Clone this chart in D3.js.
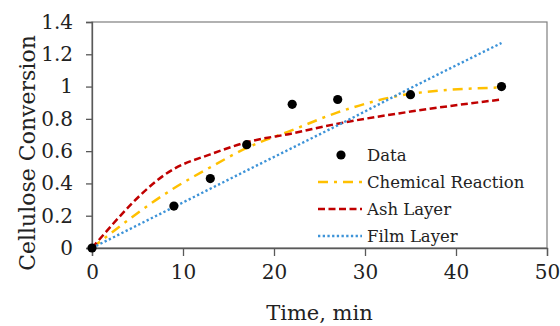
<!DOCTYPE html>
<html>
<head>
<meta charset="utf-8">
<script src="https://cdn.jsdelivr.net/npm/d3@7"></script>
<style>
  body { margin: 0; background: #fff; }
  text { font-family: "DejaVu Serif", serif; fill: #222; }
</style>
</head>
<body>
<svg id="chart"></svg>
<script>
// time points (min)
const times = [0, 9, 13, 17, 22, 27, 35, 45];
// measured conversion
const data = [0, 0.26, 0.43, 0.64, 0.89, 0.92, 0.95, 1.0];
// model fits
const chemical = [0, 0.37, 0.50, 0.62, 0.73, 0.84, 0.955, 0.995];
const ash = [0, 0.49, 0.58, 0.655, 0.71, 0.77, 0.845, 0.92];
const film = [0, 0.254, 0.367, 0.48, 0.62, 0.76, 0.99, 1.27];

const xTicks = [0, 10, 20, 30, 40, 50];
const yTicks = [0, 0.2, 0.4, 0.6, 0.8, 1, 1.2, 1.4];
const legendLabels = ["Data", "Chemical Reaction", "Ash Layer", "Film Layer"];

const width = 560, height = 326;
const margin = { top: 22, right: 13, bottom: 78, left: 92 };
const w = width - margin.left - margin.right;
const h = height - margin.top - margin.bottom;

const svg = d3.select("#chart").attr("width", width).attr("height", height);
const g = svg.append("g").attr("transform", "translate(" + margin.left + "," + margin.top + ")");

const x = d3.scaleLinear().domain([0, 50]).range([0, w]);
const y = d3.scaleLinear().domain([0, 1.4]).range([h, 0]);

// plot frame
g.append("rect")
  .attr("width", w).attr("height", h)
  .attr("fill", "none").attr("stroke", "#7f7f7f").attr("stroke-width", 1.2);

const xAxis = g.append("g")
  .attr("transform", "translate(0," + h + ")")
  .call(d3.axisBottom(x).tickValues(xTicks).tickSize(8).tickPadding(9));
const yAxis = g.append("g")
  .call(d3.axisLeft(y).tickValues(yTicks).tickSize(6).tickPadding(13)
    .tickFormat(d => String(+d.toFixed(1))));

[xAxis, yAxis].forEach(a => {
  a.attr("font-family", null);
  a.selectAll("path, line").attr("stroke", "#595959").attr("stroke-width", 1.3);
  a.selectAll("text").style("font-size", "20px").attr("fill", "#222");
});

// series
const series = [
  { name: "Chemical Reaction", values: chemical, color: "#FFC000", dash: "10,6,3,6", width: 2.5 },
  { name: "Ash Layer", values: ash, color: "#C00000", dash: "7,3.5", width: 2.5 },
  { name: "Film Layer", values: film, color: "#3D93D8", dash: "2.3,2.4", width: 2.4 }
];

const line = d3.line()
  .x((d, i) => x(times[i]))
  .y(d => y(d))
  .curve(d3.curveMonotoneX);

series.forEach(s => {
  g.append("path")
    .datum(s.values)
    .attr("d", line)
    .attr("fill", "none")
    .attr("stroke", s.color)
    .attr("stroke-width", s.width)
    .attr("stroke-dasharray", s.dash);
});

g.selectAll(".pt")
  .data(data)
  .enter()
  .append("circle")
  .attr("cx", (d, i) => x(times[i]))
  .attr("cy", d => y(d))
  .attr("r", 4.6)
  .attr("fill", "#000");

// legend
const legend = svg.append("g").attr("transform", "translate(318,155)");
legendLabels.forEach((lab, i) => {
  const row = legend.append("g").attr("transform", "translate(0," + (i * 27) + ")");
  if (i === 0) {
    row.append("circle").attr("cx", 23).attr("cy", 0).attr("r", 4.6).attr("fill", "#000");
  } else {
    const s = series[i - 1];
    row.append("line").attr("x1", 0).attr("x2", 44).attr("y1", 0).attr("y2", 0)
      .attr("stroke", s.color).attr("stroke-width", s.width).attr("stroke-dasharray", s.dash);
  }
  row.append("text").attr("x", 49).attr("y", 0).attr("dy", "0.35em")
    .style("font-size", "16.5px").text(lab);
});

// axis titles
svg.append("text")
  .attr("x", margin.left + w / 2).attr("y", 320)
  .attr("text-anchor", "middle")
  .style("font-size", "21px")
  .text("Time, min");

svg.append("text")
  .attr("transform", "translate(35,153) rotate(-90)")
  .attr("text-anchor", "middle")
  .style("font-size", "22px")
  .text("Cellulose Conversion");
</script>
</body>
</html>
